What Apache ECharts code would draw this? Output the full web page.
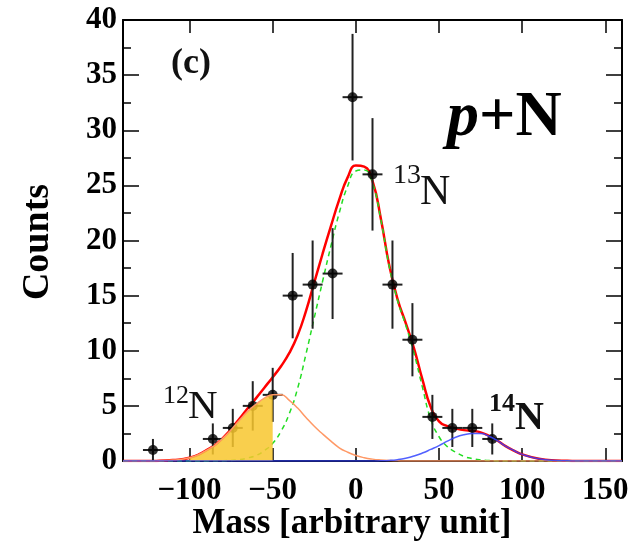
<!DOCTYPE html>
<html>
<head>
<meta charset="UTF-8">
<title>p+N mass</title>
<script src="https://cdn.jsdelivr.net/npm/echarts@6/dist/echarts.min.js"></script>
<style>
  html, body { margin: 0; padding: 0; background: #fff; }
  #chart { width: 638px; height: 547px; }
</style>
</head>
<body>
<div id="chart"></div>
<script type="text/javascript">
// measured histogram: bin centres, counts, errors
var massX = [-122, -86, -74, -62, -50, -38, -26, -14, -2, 10, 22, 34, 46, 58, 70, 82];
var counts = [1, 2, 3, 5, 6, 15, 16, 17, 33, 26, 16, 11, 4, 3, 3, 2];
var countErr = [1, 1.41, 1.73, 2.24, 2.45, 3.87, 4, 4.12, 5.74, 5.1, 4, 3.32, 2, 1.73, 1.73, 1.41];
var binHalf = 6;

// fit curves
var curveX = [-140, -130, -120, -110, -100, -90, -80, -70, -65, -60, -55, -50, -45, -40, -35, -30, -25, -20, -15, -10,
  -5, 0, 5, 10, 15, 20, 25, 30, 35, 40, 45, 50, 55, 60, 65, 70, 75, 80, 85, 90, 95, 100, 110, 120, 130, 140, 150, 160];
var fitTotal = [0, 0, 0.01, 0.08, 0.3, 0.96, 2.08, 3.82, 4.78, 5.7, 6.65, 7.6, 8.6, 9.8, 11.4, 13.6, 16.2, 18.8, 21.3, 23.7,
  25.7, 26.8, 26.7, 25.4, 22.0, 17.8, 14.7, 12.5, 10.2, 7.4, 4.9, 3.6, 3.15, 2.95, 2.8, 2.72, 2.6, 2.29, 1.86, 1.35,
  0.95, 0.6, 0.2, 0.05, 0.01, 0, 0, 0];
var fit13N = [0, 0, 0, 0, 0, 0.01, 0.03, 0.12, 0.28, 0.5, 0.95, 1.6, 2.7, 4.3, 6.6, 9.7, 13.0, 16.3, 19.5, 22.5,
  24.9, 26.3, 26.4, 25.2, 21.9, 17.7, 14.6, 12.3, 9.75, 6.7, 3.8, 2.2, 1.3, 0.8, 0.42, 0.22, 0.1, 0.04, 0.01, 0,
  0, 0, 0, 0, 0, 0, 0, 0];
var fit12N = [0, 0, 0.01, 0.08, 0.3, 0.95, 2.05, 3.7, 4.5, 5.15, 5.7, 6.0, 6.0, 5.5, 4.8, 3.95, 3.15, 2.45, 1.8, 1.2,
  0.8, 0.5, 0.3, 0.17, 0.09, 0.04, 0.02, 0, 0, 0, 0, 0, 0, 0, 0, 0, 0, 0, 0, 0,
  0, 0, 0, 0, 0, 0, 0, 0];
var fit14N = [0, 0, 0, 0, 0, 0, 0, 0, 0, 0, 0, 0, 0, 0, 0, 0, 0, 0, 0, 0,
  0, 0, 0, 0, 0.02, 0.05, 0.12, 0.25, 0.45, 0.72, 1.05, 1.4, 1.8, 2.15, 2.38, 2.5, 2.5, 2.25, 1.85, 1.35,
  0.95, 0.6, 0.2, 0.05, 0.01, 0, 0, 0];
var shadeFrom = -100, shadeTo = -50;

var xTicks = [-100, -50, 0, 50, 100, 150];

var FONT = 'Liberation Serif';

function pairs(xs, ys) {
  return xs.map(function (x, i) { return [x, ys[i]]; });
}

var shadeData = pairs(curveX, fit12N).filter(function (p) { return p[0] >= shadeFrom && p[0] <= shadeTo; });

var pointData = massX.map(function (x, i) { return [x, counts[i], countErr[i]]; });

var chart = echarts.init(document.getElementById('chart'));

var axisLine = { show: true, onZero: false, lineStyle: { color: '#000', width: 2 } };
var tickStyle = { color: '#000', width: 1.5 };

var option = {
  backgroundColor: '#fff',
  animation: false,
  grid: { left: 123, right: 16, top: 20, bottom: 86 },
  xAxis: [{
    type: 'value', min: -140, max: 160, position: 'bottom',
    axisLine: axisLine,
    axisTick: { inside: true, length: 13, customValues: xTicks, lineStyle: tickStyle },
    axisLabel: {
      customValues: xTicks, margin: 14, color: '#000', fontFamily: FONT, fontWeight: 'bold', fontSize: 31,
      formatter: function (v) { return v < 0 ? '\u2212' + Math.abs(v) : String(v); }
    },
    splitLine: { show: false }
  }, {
    type: 'value', min: -140, max: 160, position: 'top',
    axisLine: axisLine,
    axisTick: { inside: true, length: 13, customValues: xTicks, lineStyle: tickStyle },
    axisLabel: { show: false },
    splitLine: { show: false }
  }],
  yAxis: [{
    type: 'value', min: 0, max: 40, interval: 5, position: 'left',
    axisLine: axisLine,
    axisTick: { inside: true, length: 16, lineStyle: tickStyle },
    minorTick: { show: true, splitNumber: 2, length: 8, lineStyle: tickStyle },
    axisLabel: { margin: 6, color: '#000', fontFamily: FONT, fontWeight: 'bold', fontSize: 31 },
    splitLine: { show: false }
  }, {
    type: 'value', min: 0, max: 40, interval: 5, position: 'right',
    axisLine: axisLine,
    axisTick: { inside: true, length: 16, lineStyle: tickStyle },
    minorTick: { show: true, splitNumber: 2, length: 8, lineStyle: tickStyle },
    axisLabel: { show: false },
    splitLine: { show: false }
  }],
  series: [
    {
      name: 'total', type: 'line', data: pairs(curveX, fitTotal), smooth: 0.5, symbol: 'none', z: 3,
      lineStyle: { color: '#ff0000', width: 2.5 }
    },
    {
      name: '13N', type: 'line', data: pairs(curveX, fit13N), smooth: 0.5, symbol: 'none', z: 4,
      lineStyle: { color: '#22dd22', width: 1.5, type: [5, 4] }
    },
    {
      name: 'errors', type: 'custom', z: 5,
      data: pointData,
      renderItem: function (params, api) {
        var x = api.value(0), y = api.value(1), e = api.value(2);
        var lo = api.coord([x, Math.max(0, y - e)]);
        var hi = api.coord([x, y + e]);
        var l = api.coord([x - binHalf, y]);
        var r = api.coord([x + binHalf, y]);
        var st = { stroke: '#222', lineWidth: 2 };
        return {
          type: 'group',
          children: [
            { type: 'line', shape: { x1: lo[0], y1: lo[1], x2: hi[0], y2: hi[1] }, style: st },
            { type: 'line', shape: { x1: l[0], y1: l[1], x2: r[0], y2: r[1] }, style: st }
          ]
        };
      }
    },
    {
      name: 'data', type: 'scatter', data: pointData, symbolSize: 10, z: 6,
      itemStyle: { color: '#000' }
    },
    {
      name: 'shade', type: 'line', data: shadeData, smooth: 0.5, symbol: 'none', z: 7,
      lineStyle: { width: 0 },
      areaStyle: { color: '#f8c72e', opacity: 0.85 }
    },
    {
      name: '12N', type: 'line', data: pairs(curveX, fit12N), smooth: 0.5, symbol: 'none', z: 8,
      lineStyle: { color: '#ff9966', width: 1.5 }
    },
    {
      name: '14N', type: 'line', data: pairs(curveX, fit14N), smooth: 0.5, symbol: 'none', z: 8,
      lineStyle: { color: '#3344ff', width: 1.5, opacity: 0.85 }
    }
  ],
  graphic: [
    { type: 'text', x: 38, y: 242, rotation: Math.PI / 2,
      style: { text: 'Counts', fontFamily: FONT, fontWeight: 'bold', fontSize: 38, fill: '#000', align: 'center', verticalAlign: 'middle' } },
    { type: 'text', x: 352, y: 524,
      style: { text: 'Mass [arbitrary unit]', fontFamily: FONT, fontWeight: 'bold', fontSize: 35, fill: '#000', align: 'center', verticalAlign: 'middle' } },
    { type: 'text', x: 171, y: 64,
      style: { text: '(c)', fontFamily: FONT, fontWeight: 'bold', fontSize: 36, fill: '#111', align: 'left', verticalAlign: 'middle' } },
    { type: 'text', x: 447, y: 118,
      style: {
        text: '{i|p}{b|+N}', align: 'left', verticalAlign: 'middle',
        rich: {
          i: { fontFamily: FONT, fontStyle: 'italic', fontWeight: 'bold', fontSize: 64, fill: '#000' },
          b: { fontFamily: FONT, fontWeight: 'bold', fontSize: 64, fill: '#000' }
        }
      } },
    { type: 'text', x: 393, y: 176, style: { text: '13', fontFamily: FONT, fontSize: 28, fill: '#111', align: 'left', verticalAlign: 'middle' } },
    { type: 'text', x: 420, y: 193, style: { text: 'N', fontFamily: FONT, fontSize: 42, fill: '#111', align: 'left', verticalAlign: 'middle' } },
    { type: 'text', x: 163, y: 396, style: { text: '12', fontFamily: FONT, fontSize: 26, fill: '#111', align: 'left', verticalAlign: 'middle' } },
    { type: 'text', x: 188, y: 407, style: { text: 'N', fontFamily: FONT, fontSize: 41, fill: '#111', align: 'left', verticalAlign: 'middle' } },
    { type: 'text', x: 489, y: 404, style: { text: '14', fontFamily: FONT, fontWeight: 'bold', fontSize: 26, fill: '#111', align: 'left', verticalAlign: 'middle' } },
    { type: 'text', x: 515, y: 419, style: { text: 'N', fontFamily: FONT, fontWeight: 'bold', fontSize: 40, fill: '#111', align: 'left', verticalAlign: 'middle' } }
  ]
};

chart.setOption(option);
</script>
</body>
</html>
